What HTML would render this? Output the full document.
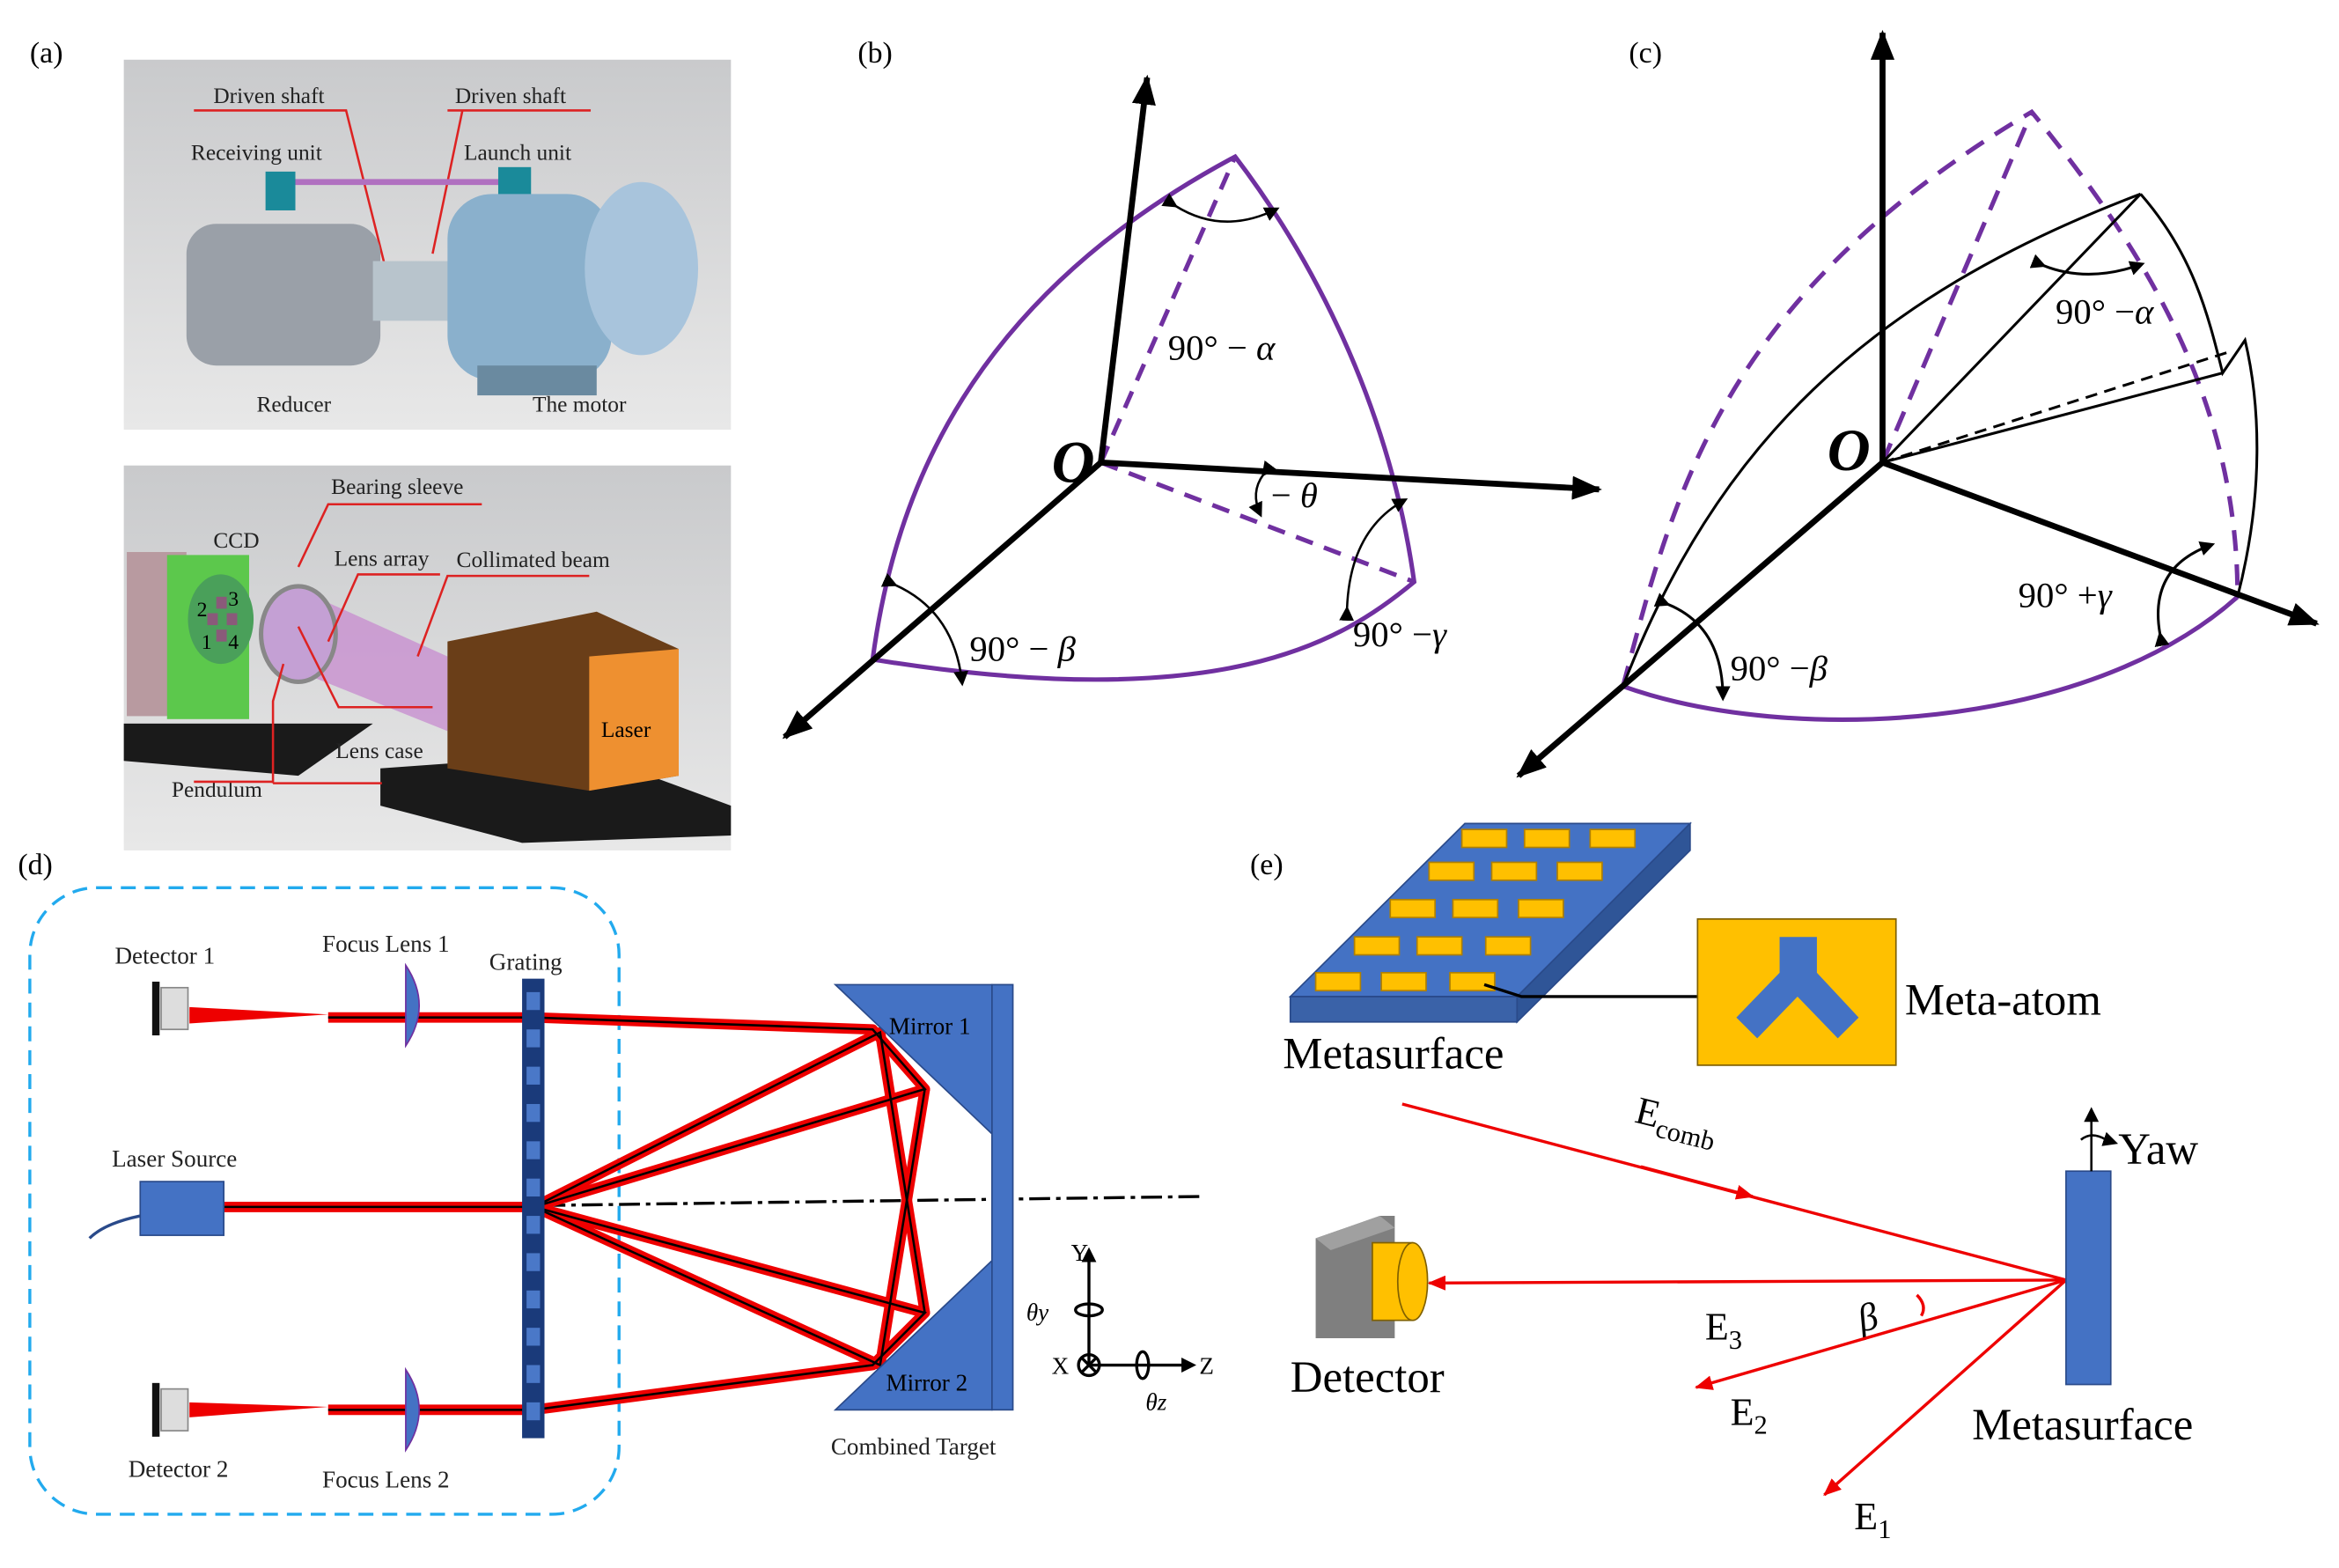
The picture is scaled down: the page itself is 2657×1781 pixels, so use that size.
<!DOCTYPE html>
<html><head><meta charset="utf-8"><style>html,body{margin:0;padding:0;background:#fff}svg{display:block}text{font-family:"Liberation Serif",serif}</style></head>
<body>
<svg width="2657" height="1781" viewBox="0 0 1568 1051" xmlns="http://www.w3.org/2000/svg">
<defs>
<linearGradient id="g1" x1="0" y1="0" x2="0" y2="1"><stop offset="0" stop-color="#c9cacc"/><stop offset="1" stop-color="#e8e8e8"/></linearGradient>
<marker id="ah" markerWidth="10" markerHeight="10" refX="8" refY="5" orient="auto" markerUnits="userSpaceOnUse"><path d="M0,0 L10,5 L0,10 z" fill="#000"/></marker>
<marker id="ab" markerWidth="20" markerHeight="16" refX="18" refY="8" orient="auto" markerUnits="userSpaceOnUse"><path d="M0,0 L20,8 L0,16 z" fill="#000"/></marker>
<marker id="ar" markerWidth="12" markerHeight="10" refX="11" refY="5" orient="auto" markerUnits="userSpaceOnUse"><path d="M0,0 L12,5 L0,10 z" fill="#e00"/></marker>
</defs>
<!-- labels -->
<g font-size="20"><text x="20" y="42">(a)</text><text x="575" y="42">(b)</text><text x="1092" y="42">(c)</text><text x="12" y="586">(d)</text><text x="838" y="586">(e)</text></g>

<!-- panel a top -->
<rect x="83" y="40" width="407" height="248" fill="url(#g1)"/>
<g font-size="15" fill="#222">
<text x="143" y="69">Driven shaft</text><text x="305" y="69">Driven shaft</text>
<text x="128" y="107">Receiving unit</text><text x="311" y="107">Launch unit</text>
<text x="172" y="276">Reducer</text><text x="357" y="276">The motor</text></g>
<g stroke="#d22" stroke-width="1.5" fill="none"><path d="M130 74H232L258 178"/><path d="M300 74H396M310 74L290 170"/></g>
<line x1="195" y1="122" x2="340" y2="122" stroke="#b070c0" stroke-width="4"/>
<rect x="178" y="115" width="20" height="26" fill="#1a8a9a"/><rect x="334" y="112" width="22" height="28" fill="#1a8a9a"/>
<rect x="125" y="150" width="130" height="95" rx="20" fill="#9aa0a8"/>
<rect x="250" y="175" width="60" height="40" fill="#b8c4cc"/>
<rect x="300" y="130" width="110" height="125" rx="30" fill="#8ab0cc"/>
<ellipse cx="430" cy="180" rx="38" ry="58" fill="#a8c4dc"/>
<rect x="320" y="245" width="80" height="20" fill="#6a8aa0"/>

<!-- panel a bottom -->
<rect x="83" y="312" width="407" height="258" fill="url(#g1)"/>
<rect x="85" y="370" width="40" height="110" fill="#b89aa0"/>
<polygon points="83,485 250,485 200,520 83,510" fill="#1a1a1a"/>
<rect x="112" y="372" width="55" height="110" fill="#5cc84c"/>
<ellipse cx="148" cy="415" rx="22" ry="30" fill="#4aa05a"/>
<g fill="#8a5a7a"><rect x="145" y="400" width="7" height="8"/><rect x="139" y="411" width="7" height="8"/><rect x="152" y="411" width="7" height="8"/><rect x="145" y="422" width="7" height="8"/></g>
<text x="132" y="413" font-size="14">2</text><text x="153" y="406" font-size="14">3</text><text x="135" y="435" font-size="14">1</text><text x="153" y="435" font-size="14">4</text>
<polygon points="200,395 300,440 300,490 200,450" fill="#c890d0" opacity="0.8"/>
<ellipse cx="200" cy="425" rx="25" ry="32" fill="#c4a0d4" stroke="#888" stroke-width="3"/>
<polygon points="255,515 395,505 490,540 490,560 350,565 255,540" fill="#1a1a1a"/>
<polygon points="300,430 400,410 455,435 455,520 395,530 300,515" fill="#6a3e18"/>
<polygon points="395,440 455,435 455,520 395,530" fill="#ee9030"/>
<text x="403" y="494" font-size="15">Laser</text>
<g font-size="15" fill="#222"><text x="222" y="331">Bearing sleeve</text><text x="143" y="367">CCD</text><text x="224" y="379">Lens array</text><text x="306" y="380">Collimated beam</text><text x="225" y="508">Lens case</text><text x="115" y="534">Pendulum</text></g>
<g stroke="#d22" stroke-width="1.5" fill="none"><path d="M323 338H220L200 380"/><path d="M395 386H300L280 440"/><path d="M295 385H240L220 430"/><path d="M290 474H227L200 420"/><path d="M183 525H256"/><path d="M183 525V470L190 445" /><path d="M183 524H130"/></g>

<!-- panel b -->
<g stroke="#7030a0" stroke-width="3" fill="none">
<path d="M585 442 C600 330 650 200 828 105 C870 160 930 260 948 390 C900 430 820 480 585 442"/>
<path d="M738 310 L828 105" stroke-dasharray="12 8"/><path d="M738 310 L948 390" stroke-dasharray="12 8"/></g>
<g stroke="#000" stroke-width="4"><line x1="738" y1="310" x2="769" y2="52" marker-end="url(#ab)"/><line x1="738" y1="310" x2="1072" y2="328" marker-end="url(#ab)"/><line x1="738" y1="310" x2="526" y2="494" marker-end="url(#ab)"/></g>
<g stroke="#000" stroke-width="1.5" fill="none"><path d="M788 138 Q820 158 856 140" marker-end="url(#ah)" marker-start="url(#ah)"/><path d="M847 318 Q838 330 845 345" marker-end="url(#ah)" marker-start="url(#ah)"/><path d="M903 408 Q905 355 942 335" marker-end="url(#ah)" marker-start="url(#ah)"/><path d="M600 392 Q640 410 645 458" marker-end="url(#ah)" marker-start="url(#ah)"/></g>
<g font-size="24"><text x="783" y="241">90°  − <tspan font-style="italic">α</tspan></text><text x="852" y="340">− <tspan font-style="italic">θ</tspan></text><text x="907" y="433">90°  −<tspan font-style="italic">γ</tspan></text><text x="650" y="443">90°  − <tspan font-style="italic">β</tspan></text></g>
<text x="705" y="323" font-size="40" font-weight="bold" font-style="italic">O</text>

<!-- panel c -->
<g stroke="#7030a0" stroke-width="3" fill="none">
<path d="M1088 460 C1120 340 1150 200 1362 75 C1440 170 1500 270 1500 400" stroke-dasharray="14 9"/>
<path d="M1262 310 L1362 75" stroke-dasharray="14 9"/>
<path d="M1088 460 C1200 500 1400 490 1500 400"/></g>
<g stroke="#000" stroke-width="1.8" fill="none">
<path d="M1088 460 C1150 300 1250 200 1435 130"/><path d="M1262 310 L1435 130"/><path d="M1435 130 C1470 170 1480 210 1490 250 L1505 228 C1515 270 1518 330 1500 400"/><path d="M1262 310 L1497 235" stroke-dasharray="8 5"/><path d="M1262 310 L1490 250"/>
<path d="M1370 178 Q1400 190 1436 177" marker-end="url(#ah)" marker-start="url(#ah)"/><path d="M1448 425 Q1440 380 1483 365" marker-end="url(#ah)" marker-start="url(#ah)"/><path d="M1118 405 Q1155 420 1155 468" marker-end="url(#ah)" marker-start="url(#ah)"/></g>
<g stroke="#000" stroke-width="4"><line x1="1262" y1="310" x2="1262" y2="22" marker-end="url(#ab)"/><line x1="1262" y1="310" x2="1553" y2="418" marker-end="url(#ab)"/><line x1="1262" y1="310" x2="1018" y2="520" marker-end="url(#ab)"/></g>
<g font-size="24"><text x="1378" y="217">90°  −<tspan font-style="italic">α</tspan></text><text x="1353" y="407">90°  +<tspan font-style="italic">γ</tspan></text><text x="1160" y="456">90°  −<tspan font-style="italic">β</tspan></text></g>
<text x="1225" y="315" font-size="40" font-weight="bold" font-style="italic">O</text>

<!-- panel d -->
<rect x="20" y="595" width="395" height="420" rx="45" fill="none" stroke="#22aaee" stroke-width="2" stroke-dasharray="10 6"/>
<g font-size="16" fill="#222"><text x="77" y="646">Detector 1</text><text x="216" y="638">Focus Lens  1</text><text x="328" y="650">Grating</text><text x="75" y="782">Laser Source</text><text x="86" y="990">Detector 2</text><text x="216" y="997">Focus Lens  2</text><text x="557" y="975">Combined Target</text></g>
<line x1="365" y1="808" x2="805" y2="802" stroke="#000" stroke-width="2" stroke-dasharray="14 4 3 4"/>
<g stroke="#e00" stroke-width="7" fill="none" stroke-linejoin="round">
<path d="M150 809 H358"/>
<path d="M358 809 L620 730 L585 690 L358 682 H220"/>
<path d="M358 809 L620 880 L585 915 L358 945 H220"/>
<path d="M358 809 L590 692 L620 880"/><path d="M358 809 L590 915 L620 730"/></g>
<g stroke="#000" stroke-width="1.5" fill="none">
<path d="M150 809 H358"/><path d="M358 809 L620 730 L585 690 L358 682 H220"/><path d="M358 809 L620 880 L585 915 L358 945 H220"/><path d="M358 809 L590 692 L620 880"/><path d="M358 809 L590 915 L620 730"/></g>
<polygon points="220,680 127,675 127,686" fill="#e00"/><polygon points="220,943 127,940 127,950" fill="#e00"/>
<rect x="350" y="656" width="15" height="308" fill="#1a3a7a"/>
<g fill="#4a78c8"><rect x="353" y="665" width="9" height="12"/><rect x="353" y="690" width="9" height="12"/><rect x="353" y="715" width="9" height="12"/><rect x="353" y="740" width="9" height="12"/><rect x="353" y="765" width="9" height="12"/><rect x="353" y="790" width="9" height="12"/><rect x="353" y="815" width="9" height="12"/><rect x="353" y="840" width="9" height="12"/><rect x="353" y="865" width="9" height="12"/><rect x="353" y="890" width="9" height="12"/><rect x="353" y="915" width="9" height="12"/><rect x="353" y="940" width="9" height="12"/></g>
<path d="M272 647 Q290 674 272 701 Z" fill="#4472c4" stroke="#7030a0"/><path d="M272 918 Q290 945 272 972 Z" fill="#4472c4" stroke="#7030a0"/>
<rect x="108" y="662" width="18" height="28" fill="#ddd" stroke="#888"/><rect x="102" y="658" width="5" height="36" fill="#111"/>
<rect x="108" y="931" width="18" height="28" fill="#ddd" stroke="#888"/><rect x="102" y="927" width="5" height="36" fill="#111"/>
<rect x="94" y="792" width="56" height="36" fill="#4472c4" stroke="#2a4a8a"/><path d="M94 815 Q70 820 60 830" stroke="#2a4a8a" fill="none" stroke-width="2"/>
<polygon points="560,660 665,660 665,760" fill="#4472c4" stroke="#2a4a8a"/><polygon points="560,945 665,945 665,845" fill="#4472c4" stroke="#2a4a8a"/>
<rect x="665" y="660" width="14" height="285" fill="#4472c4" stroke="#2a4a8a"/>
<text x="596" y="693" font-size="16">Mirror 1</text><text x="594" y="932" font-size="16">Mirror 2</text>
<g stroke="#000" stroke-width="2" fill="none"><line x1="730" y1="915" x2="730" y2="838" marker-end="url(#ah)"/><line x1="730" y1="915" x2="800" y2="915" marker-end="url(#ah)"/><circle cx="730" cy="915" r="7"/><path d="M725 910 L735 920 M735 910 L725 920"/><ellipse cx="730" cy="878" rx="9" ry="4"/><ellipse cx="766" cy="915" rx="4" ry="9"/></g>
<g font-size="16"><text x="718" y="845">Y</text><text x="705" y="921">X</text><text x="804" y="921">Z</text><text x="688" y="885" font-style="italic">θy</text><text x="768" y="945" font-style="italic">θz</text></g>

<!-- panel e -->
<polygon points="865,668 1017,668 1133,552 982,552" fill="#4472c4" stroke="#2a4a8a"/>
<polygon points="865,668 1017,668 1017,685 865,685" fill="#3a62a8" stroke="#2a4a8a"/>
<polygon points="1017,668 1133,552 1133,570 1017,685" fill="#2f5597" stroke="#2a4a8a"/>
<g fill="#ffc000" stroke="#b08000" stroke-width="1">
<rect x="980" y="556" width="30" height="12"/><rect x="1022" y="556" width="30" height="12"/><rect x="1066" y="556" width="30" height="12"/>
<rect x="958" y="578" width="30" height="12"/><rect x="1000" y="578" width="30" height="12"/><rect x="1044" y="578" width="30" height="12"/>
<rect x="932" y="603" width="30" height="12"/><rect x="974" y="603" width="30" height="12"/><rect x="1018" y="603" width="30" height="12"/>
<rect x="908" y="628" width="30" height="12"/><rect x="950" y="628" width="30" height="12"/><rect x="996" y="628" width="30" height="12"/>
<rect x="882" y="652" width="30" height="12"/><rect x="926" y="652" width="30" height="12"/><rect x="972" y="652" width="30" height="12"/></g>
<path d="M995 660 L1020 668 H1138" stroke="#000" stroke-width="2" fill="none"/>
<rect x="1138" y="616" width="133" height="98" fill="#ffc000" stroke="#7f6000"/>
<polygon points="1193,628 1218,628 1218,652 1246,682 1232,696 1205,668 1178,696 1164,682 1193,652" fill="#4472c4"/>
<g font-size="30"><text x="860" y="716">Metasurface</text><text x="1277" y="680">Meta-atom</text><text x="865" y="933">Detector</text><text x="1322" y="965">Metasurface</text><text x="1420" y="780">Yaw</text></g>
<g font-size="26"><text x="1095" y="752" transform="rotate(14 1095 752)">E<tspan font-size="18" dy="6">comb</tspan></text><text x="1143" y="898">E<tspan font-size="18" dy="6">3</tspan></text><text x="1160" y="955">E<tspan font-size="18" dy="6">2</tspan></text><text x="1243" y="1025">E<tspan font-size="18" dy="6">1</tspan></text><text x="1248" y="893" font-style="italic" transform="rotate(-15 1248 893)">β</text></g>
<g stroke="#e00" stroke-width="2" fill="none">
<line x1="940" y1="740" x2="1385" y2="858"/><line x1="1100" y1="782" x2="1175" y2="802" marker-end="url(#ar)"/>
<line x1="1385" y1="858" x2="958" y2="860" marker-end="url(#ar)"/><line x1="1385" y1="858" x2="1137" y2="930" marker-end="url(#ar)"/><line x1="1385" y1="858" x2="1223" y2="1002" marker-end="url(#ar)"/>
<path d="M1285 868 Q1292 875 1288 882"/></g>
<rect x="1385" y="785" width="30" height="143" fill="#4472c4" stroke="#2a4a8a"/>
<g stroke="#000" stroke-width="1.5" fill="none"><line x1="1402" y1="785" x2="1402" y2="744" marker-end="url(#ah)"/><path d="M1395 764 Q1402 758 1412 764 L1418 766" marker-end="url(#ah)"/></g>
<polygon points="882,830 925,815 935,815 935,897 882,897" fill="#7f7f7f"/><polygon points="882,830 925,815 935,823 892,838" fill="#a0a0a0"/>
<rect x="920" y="833" width="27" height="52" fill="#ffc000" stroke="#806000"/><ellipse cx="947" cy="859" rx="10" ry="26" fill="#ffc000" stroke="#806000"/>
</svg>
</body></html>
